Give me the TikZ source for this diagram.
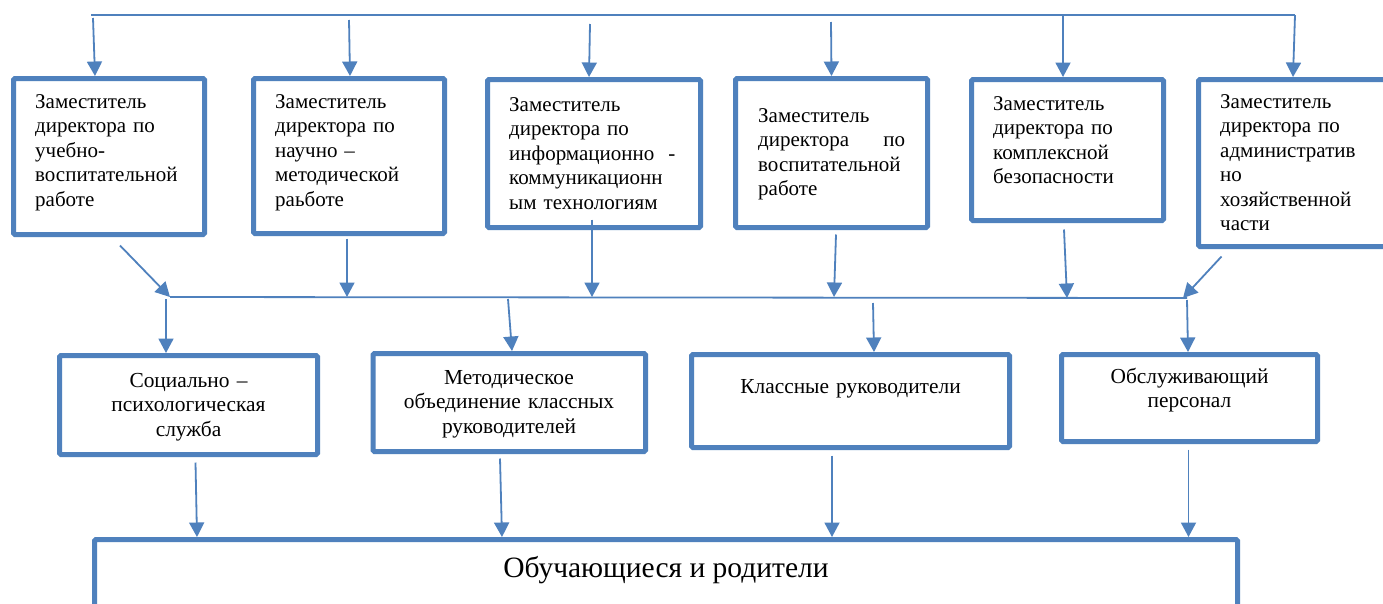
\documentclass[tikz,border=0pt]{standalone}
\usepackage{fontspec}
\setmainfont{Liberation Serif}
\usetikzlibrary{arrows.meta}
\definecolor{ob}{HTML}{4F81BD}
\begin{document}
\begin{tikzpicture}[x=1pt,y=-1pt,
  box/.style={draw=ob, line width=5pt, rounded corners=1.5pt, inner sep=0pt, fill=white},
  arr/.style={draw=ob, line width=1.8pt, -{Triangle[length=14.5pt,width=15pt]}},
  bus/.style={draw=ob, line width=1.8pt},
  lt/.style={anchor=base west, align=left, text width=190pt, inner sep=0pt, font=\fontsize{21}{24.4}\selectfont},
  ct/.style={anchor=base, align=center, text width=300pt, inner sep=0pt, font=\fontsize{21.4}{24.4}\selectfont}]
\useasboundingbox (0,0) rectangle (1383,603);
\clip (0,0) rectangle (1383,603);
\fill[white] (0,0) rectangle (1383,603);

% top boxes
\node[box, minimum width=191pt, minimum height=156pt] (b1) at (109,156.5) {};
\node[box, minimum width=191pt, minimum height=155pt] (b2) at (349,156) {};
\node[box, minimum width=213pt, minimum height=148pt] (b3) at (594,153.5) {};
\node[box, minimum width=192pt, minimum height=149pt] (b4) at (831.5,153) {};
\node[box, minimum width=192pt, minimum height=141pt] (b5) at (1067.5,150) {};
\node[box, minimum width=189pt, minimum height=167pt] (b6) at (1293,163) {};

% middle boxes
\node[box, minimum width=258pt, minimum height=99pt] (b7) at (188.5,405) {};
\node[box, minimum width=272.5pt, minimum height=98pt] (b8) at (509.25,402.5) {};
\node[box, minimum width=318pt, minimum height=93pt] (b9) at (850.5,401) {};
\node[box, minimum width=256pt, minimum height=87pt] (b10) at (1189.5,398) {};

% bottom box
\node[box, minimum width=1143pt, minimum height=160.5pt] (bb) at (666,619.75) {};

% texts
\node[lt] (t1) at (35,108.5) {Заместитель\\директора по\\учебно-\\воспитательной\\работе};
\node[lt] (t2) at (275,108.5) {Заместитель\\директора по\\научно –\\методической\\раьботе};
\node[lt] (t3) at (509,111.5) {Заместитель\\директора по\\информационно~~-\\коммуникационн\\ым технологиям};
\node[lt, text width=147pt] (t4) at (758,122.5) {Заместитель\\директора\hfill по\\воспитательной\\работе};
\node[lt] (t5) at (993,110.5) {Заместитель\\директора по\\комплексной\\безопасности};
\node[lt] (t6) at (1220,108.5) {Заместитель\\директора по\\административ\\но\\хозяйственной\\части};

\node[ct] (t7) at (188.5,387.5) {Социально –\\психологическая\\служба};
\node[ct] (t8) at (509,384.5) {Методическое\\объединение классных\\руководителей};
\node[ct] (t9) at (850.5,393.5) {Классные руководители};
\node[ct] (t10) at (1189.5,383.5) {Обслуживающий\\персонал};

\node[anchor=base, inner sep=0pt, font=\fontsize{29.5}{34}\selectfont] (tb) at (666,577) {Обучающиеся и родители};

% top bus
\coordinate (tbL) at (91,15);
\coordinate (tbR) at (1295,15);
\draw[bus] (tbL) -- (tbR);
\coordinate (d1) at (93,18);
\coordinate (d2) at (349,20);
\coordinate (d3) at (590,24);
\coordinate (d4) at (831,22);
\coordinate (d5) at (1063,15);
\draw[arr] (d1) -- ([xshift=-14pt]b1.north);
\draw[arr] (d2) -- ([xshift=1pt]b2.north);
\draw[arr] (d3) -- ([xshift=-5pt]b3.north);
\draw[arr] (d4) -- (b4.north);
\draw[arr] (d5) -- ([xshift=-4.5pt]b5.north);
\draw[arr] (tbR) -- (b6.north);

% middle bus
\coordinate (mbL) at (170,297);
\coordinate (mbR) at (1187,298);
\draw[bus] (mbL) -- (mbR);
\coordinate (m2) at (347,297);
\coordinate (m3) at (592,297);
\coordinate (m4) at (834,297);
\coordinate (m5) at (1067,298);
\coordinate (m6) at (1183,298);
\draw[arr] ([xshift=11pt,yshift=-8.5pt]b1.south) -- (mbL);
\draw[arr] ([xshift=-2pt,yshift=-2.5pt]b2.south) -- (m2);
\draw[arr] ([xshift=-2pt,yshift=10.5pt]b3.south) -- (m3);
\draw[arr] ([xshift=4.5pt,yshift=-4.5pt]b4.south) -- (m4);
\draw[arr] ([xshift=-3.5pt,yshift=-6.5pt]b5.south) -- (m5);
\draw[arr] ([xshift=25.5pt,yshift=-7.5pt]b6.south west) -- (m6);

% bus to middle boxes
\coordinate (n1) at (166,299);
\coordinate (n2) at (508,299);
\coordinate (n3) at (873,303);
\coordinate (n4) at (1187,300);
\draw[arr] (n1) -- ([xshift=-22.5pt]b7.north);
\draw[arr] (n2) -- ([xshift=2.75pt]b8.north);
\draw[arr] (n3) -- ([xshift=23.5pt]b9.north);
\draw[arr] (n4) -- ([xshift=-1.5pt]b10.north);

% middle boxes to bottom box
\draw[arr] ([xshift=7pt,yshift=-5.5pt]b7.south) -- ([xshift=-469pt]bb.north);
\draw[arr] ([xshift=-9.25pt,yshift=-4.5pt]b8.south) -- ([xshift=-164pt]bb.north);
\draw[arr] ([xshift=-18.5pt,yshift=-5.5pt]b9.south) -- ([xshift=166pt]bb.north);
\draw[arr] ([xshift=-1pt,yshift=-5.5pt]b10.south) -- ([xshift=522.5pt]bb.north);
\end{tikzpicture}
\end{document}
